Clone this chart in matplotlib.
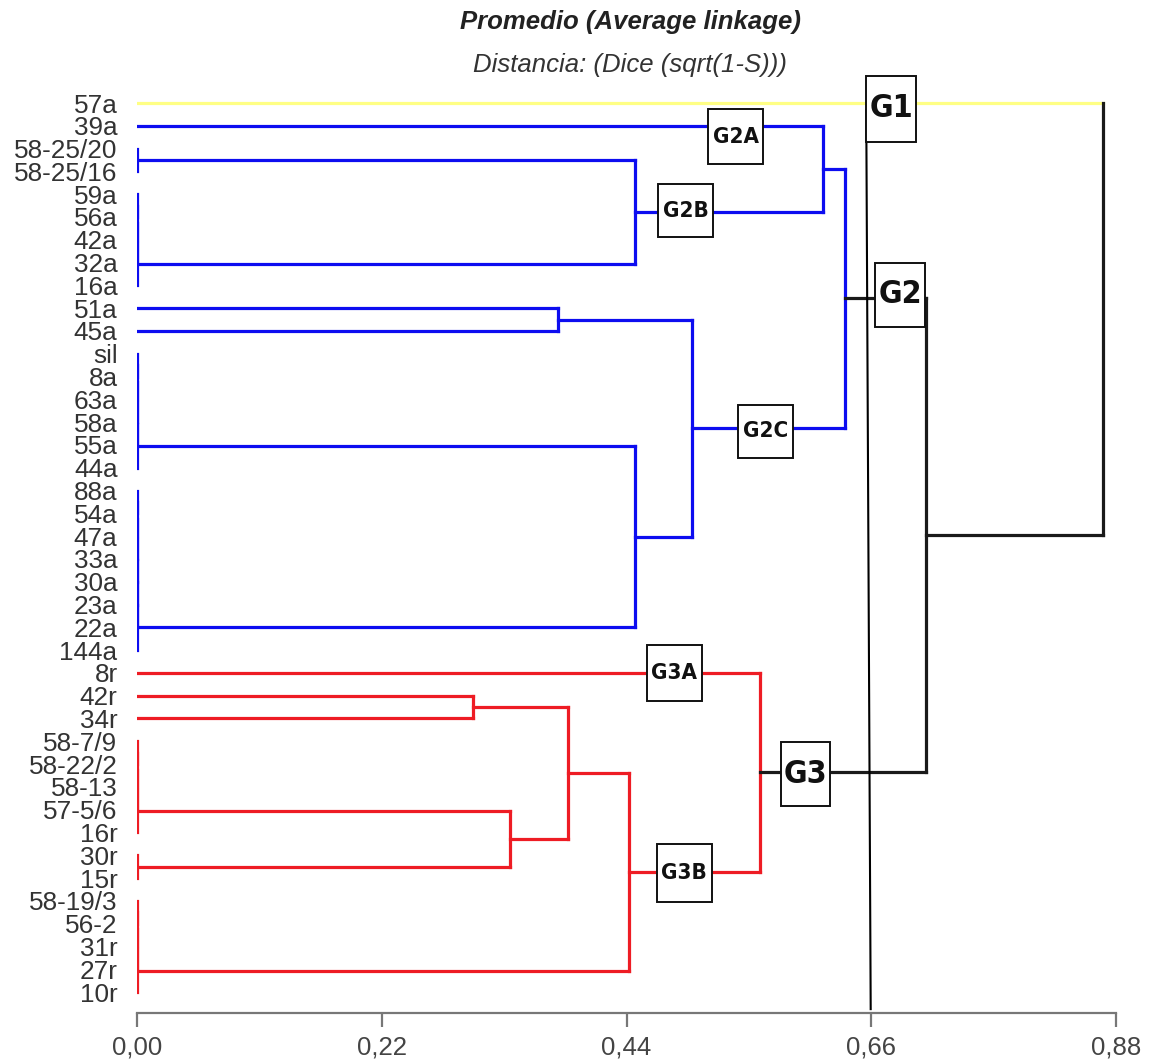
import matplotlib
matplotlib.use("Agg")
import matplotlib.pyplot as plt
from matplotlib.patches import Rectangle

# ---------------- data ----------------
leaves = ["57a", "39a", "58-25/20", "58-25/16", "59a", "56a", "42a", "32a", "16a",
          "51a", "45a", "sil", "8a", "63a", "58a", "55a", "44a",
          "88a", "54a", "47a", "33a", "30a", "23a", "22a", "144a",
          "8r", "42r", "34r", "58-7/9", "58-22/2", "58-13", "57-5/6", "16r",
          "30r", "15r", "58-19/3", "56-2", "31r", "27r", "10r"]

# merges: name, left child, right child, distance
merge_names = ["A1", "B1", "B2", "B3", "B4",
               "C1", "C2", "C3", "C4", "C5",
               "D1", "D2", "D3", "D4", "D5", "D6", "D7",
               "E1", "E2", "E3", "E4", "F1",
               "H1", "H2", "H3", "H4",
               "P", "Q", "R", "S", "G3B", "G2B", "T", "G2C",
               "G3", "G2A", "G2", "G23", "root"]
merge_left = ["58-25/20", "59a", "B1", "B2", "B3",
              "sil", "C1", "C2", "C3", "C4",
              "88a", "D1", "D2", "D3", "D4", "D5", "D6",
              "58-7/9", "E1", "E2", "E3", "30r",
              "58-19/3", "H1", "H2", "H3",
              "42r", "51a", "E4", "P", "S", "A1", "C5", "Q",
              "8r", "39a", "G2A", "G2", "57a"]
merge_right = ["58-25/16", "56a", "42a", "32a", "16a",
               "8a", "63a", "58a", "55a", "44a",
               "54a", "47a", "33a", "30a", "23a", "22a", "144a",
               "58-22/2", "58-13", "57-5/6", "16r", "15r",
               "56-2", "31r", "27r", "10r",
               "34r", "45a", "F1", "R", "H4", "B4", "D7", "T",
               "G3B", "G2B", "G2C", "G3", "G23"]
merge_height = [0.0, 0.0, 0.0, 0.0, 0.0,
                0.0, 0.0, 0.0, 0.0, 0.0,
                0.0, 0.0, 0.0, 0.0, 0.0, 0.0, 0.0,
                0.0, 0.0, 0.0, 0.0, 0.0,
                0.0, 0.0, 0.0, 0.0,
                0.302, 0.378, 0.335, 0.387, 0.442, 0.448, 0.448, 0.499,
                0.560, 0.617, 0.636, 0.709, 0.868]

group_names = ["57a", "G2", "G3"]
group_colors = ["#ffff84", "#0d0df0", "#ee1c24"]
base_color = "#1a1a1a"

x_ticks = [0.00, 0.22, 0.44, 0.66, 0.88]
x_tick_labels = ["0,00", "0,22", "0,44", "0,66", "0,88"]

title = "Promedio (Average linkage)"
subtitle = "Distancia: (Dice (sqrt(1-S)))"

# annotation boxes: label, x-centre, y-centre, width, height, fontsize
box_labels = ["G1", "G2A", "G2B", "G2", "G2C", "G3A", "G3", "G3B"]
box_x = [0.678, 0.538, 0.493, 0.686, 0.565, 0.483, 0.601, 0.492]
box_y = [0.26, 1.47, 4.72, 8.42, 14.41, 25.0, 29.44, 33.78]
box_w = [0.045, 0.050, 0.049, 0.045, 0.049, 0.049, 0.044, 0.049]
box_h = [2.90, 2.41, 2.33, 2.81, 2.33, 2.46, 2.81, 2.57]
box_fs = [23, 16, 16, 23, 16, 16, 23, 16]

# ---------------- build tree ----------------
pos = {name: float(i) for i, name in enumerate(leaves)}
height = {name: 0.0 for name in leaves}
children = {}
parent = {}
for n, l, r, h in zip(merge_names, merge_left, merge_right, merge_height):
    pos[n] = (pos[l] + pos[r]) / 2.0
    height[n] = h
    children[n] = (l, r)
    parent[l] = n
    parent[r] = n

color = {}
def assign(node, col):
    if node in group_names:
        col = group_colors[group_names.index(node)]
    color[node] = col
    if node in children:
        for c in children[node]:
            assign(c, col)
assign("root", base_color)

def stem_color(c):
    # the link from a group's own node up to its parent is drawn in the parent's colour,
    # except for a single-leaf group, whose whole line carries the group colour
    if c in group_names and c in children:
        return color[parent[c]]
    return color[c]

# ---------------- figure ----------------
W, H = 1153, 1064
fig = plt.figure(figsize=(W / 100, H / 100), dpi=100)
ax = fig.add_axes([137 / W, 1 - 1013 / H, 979 / W, (1013 - 80) / H])
ax.set_xlim(0, 0.88)
ax.set_ylim(39.92, -1.009)

LW = 2.3
for n in merge_names:
    l, r = children[n]
    h = height[n]
    ax.plot([h, h], [pos[l], pos[r]], color=color[n], lw=LW,
            solid_capstyle="projecting", zorder=2)
    for c in (l, r):
        if h > height[c]:
            sc = stem_color(c)
            ax.plot([height[c], h], [pos[c], pos[c]], color=sc, lw=LW,
                    solid_capstyle="projecting",
                    zorder=1.5 if sc == group_colors[0] else 2)

# cut line
ax.plot([0.6555, 0.6595], [0.3, 39.75], color="black", lw=1.5, zorder=4, clip_on=False)

# boxes
lab_family = ["Liberation Sans Narrow", "DejaVu Sans"]
for lab, bx, by, bw, bh, fs in zip(box_labels, box_x, box_y, box_w, box_h, box_fs):
    ax.add_patch(Rectangle((bx - bw / 2, by - bh / 2), bw, bh, facecolor="white",
                           edgecolor="#111111", lw=1.4, zorder=5, clip_on=False))
    ax.text(bx, by, lab, ha="center", va="center", fontsize=fs, fontweight="bold",
            fontstretch="condensed", family=lab_family, color="#111111",
            zorder=6, clip_on=False)

# axes styling
for s in ["top", "right", "left"]:
    ax.spines[s].set_visible(False)
ax.spines["bottom"].set_color("#777777")
ax.spines["bottom"].set_linewidth(1.6)
ax.set_xticks(x_ticks)
ax.set_xticklabels(x_tick_labels, family=["Liberation Sans", "DejaVu Sans"],
                   fontsize=18.5, color="#444444")
ax.tick_params(axis="x", length=10, width=1.6, color="#777777", pad=6)
ax.set_yticks(range(len(leaves)))
ax.set_yticklabels(leaves, family=["Liberation Sans", "DejaVu Sans"],
                   fontsize=18.8, color="#333333")
ax.tick_params(axis="y", length=0, pad=14)

fig.text(630 / W, 1 - 22 / H, title, ha="center", va="center", fontsize=18.5,
         fontweight="bold", fontstyle="italic", color="#222222",
         family=["Liberation Sans", "DejaVu Sans"])
fig.text(630 / W, 1 - 65 / H, subtitle, ha="center", va="center", fontsize=18.5,
         fontstyle="italic", color="#333333",
         family=["Liberation Sans", "DejaVu Sans"])

fig.savefig("out.png", dpi=100, facecolor="white")
